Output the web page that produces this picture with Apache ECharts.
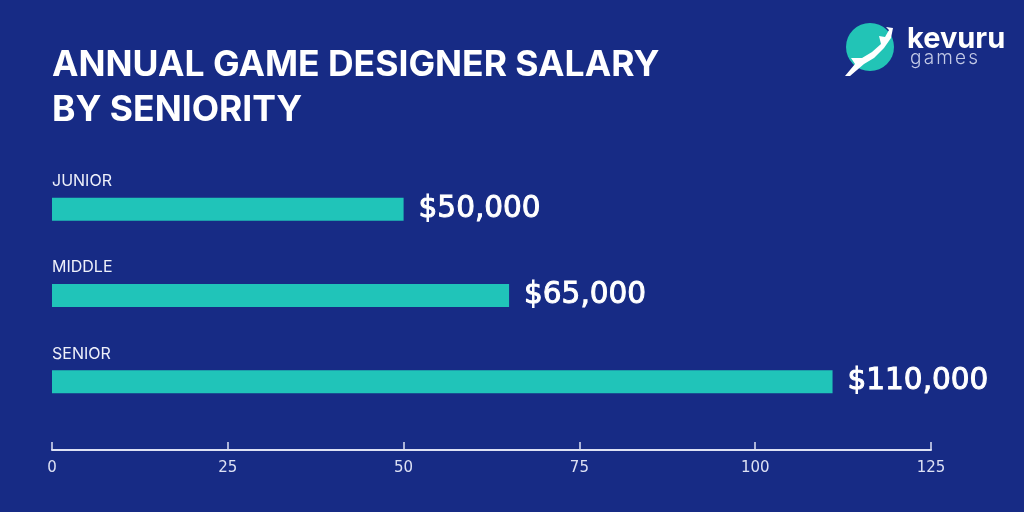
<!DOCTYPE html>
<html><head><meta charset="utf-8">
<script src="https://cdn.jsdelivr.net/npm/echarts@6/dist/echarts.min.js"></script>
<style>html,body{margin:0;padding:0;background:#172b85}#c{width:1024px;height:512px}</style>
</head><body><div id="c"></div>
<script>
const categories = ['JUNIOR', 'MIDDLE', 'SENIOR'];
const salaries = [50, 65, 111]; // bar lengths as drawn, thousands of USD
const salaryLabels = ['$50,000', '$65,000', '$110,000'];
const axisTicks = [0, 25, 50, 75, 100, 125];
const titleLines = ['ANNUAL GAME DESIGNER SALARY', 'BY SENIORITY'];
const brandName = 'kevuru';
const brandSub = 'games';

const graphics = [
  { type: 'circle', shape: { cx: 870, cy: 47, r: 24 }, style: { fill: '#22c4b6' } },
  { type: 'polygon', shape: { points: [[845,76],[855,64],[851,58],[862,58],[872,52],[881,44],[879,36],[885,37],[889,30],[886,27],[893,28],[891,38],[884,48],[874,58],[864,64],[850,76]] },
    style: { fill: '#ffffff' } },
  { type: 'text', left: 907, top: 25, style: { text: brandName, fill: '#ffffff', font: 'bold 29px Inter' } }
];
// spaced sub-brand letters
const subFont = '300 19px Inter';
const ctx = document.createElement('canvas').getContext('2d');
ctx.font = subFont;
let sx = 910;
brandSub.split('').forEach(ch => {
  graphics.push({ type: 'text', x: sx, y: 49, style: { text: ch, fill: '#c2c9e6', font: subFont } });
  sx += ctx.measureText(ch).width + 2.2;
});

const chart = echarts.init(document.getElementById('c'));
chart.setOption({
  backgroundColor: '#172b85',
  animation: false,
  title: {
    text: titleLines.join('\n'),
    left: 47, top: 38,
    textStyle: { color: '#ffffff', fontFamily: 'Inter', fontWeight: 'bold', fontSize: 35.5, lineHeight: 45 }
  },
  grid: [
    { left: 52, right: 93, top: 166, height: 259 },
    { left: 52, right: 93, top: 441, height: 9 }
  ],
  xAxis: [
    { gridIndex: 0, type: 'value', min: 0, max: 125, show: false },
    { gridIndex: 1, type: 'value', min: axisTicks[0], max: axisTicks[axisTicks.length - 1], interval: 25,
      axisLine: { show: true, lineStyle: { color: '#dde1f4', width: 2 } },
      axisTick: { show: true, inside: true, length: 8, lineStyle: { color: '#dde1f4', width: 1.5 } },
      splitLine: { show: false },
      axisLabel: { color: '#dde1f4', fontFamily: 'DejaVu Sans', fontSize: 15, margin: 11 } }
  ],
  yAxis: [
    { gridIndex: 0, type: 'category', inverse: true, data: categories,
      axisLine: { show: false }, axisTick: { show: false }, splitLine: { show: false },
      axisLabel: { inside: true, margin: 0, align: 'left', verticalAlign: 'bottom', padding: [0, 0, 20, 0],
        color: '#eef0fa', fontFamily: 'Inter', fontSize: 16 } },
    { gridIndex: 1, type: 'value', show: false }
  ],
  series: [
    { type: 'bar', xAxisIndex: 0, yAxisIndex: 0, data: salaries, barWidth: 23,
      itemStyle: { color: '#20c4b9' },
      label: { show: true, position: 'right', distance: 15, color: '#ffffff',
        fontFamily: 'DejaVu Sans', fontSize: 29.5, textBorderColor: '#ffffff', textBorderWidth: 1,
        formatter: p => salaryLabels[p.dataIndex] } },
    { type: 'scatter', xAxisIndex: 1, yAxisIndex: 1, data: [] }
  ],
  graphic: graphics
});
</script></body></html>
